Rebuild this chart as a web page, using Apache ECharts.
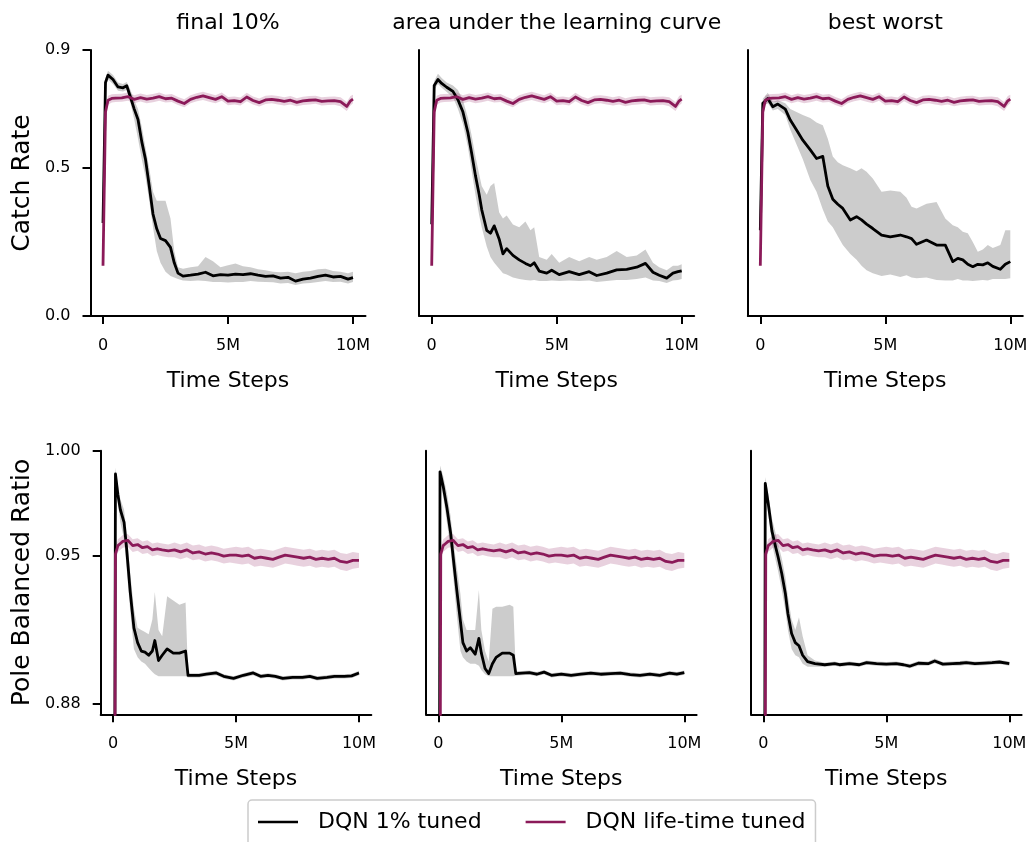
<!DOCTYPE html>
<html>
<head>
<meta charset="utf-8">
<script src="https://cdn.jsdelivr.net/npm/echarts@6/dist/echarts.min.js"></script>
<style>
html, body { margin: 0; padding: 0; background: #fff; }
#chart { width: 1031px; height: 842px; }
</style>
</head>
<body>
<div id="chart"></div>
<script>
// x in millions of time steps

// top row: DQN life-time tuned (same run in all three columns)
var MT_X  = [0, 0.1, 0.2, 0.35, 0.5, 0.75, 1.0, 1.25, 1.5, 1.75, 2.0, 2.25, 2.5, 2.75, 3.0, 3.25, 3.5, 3.75, 4.0, 4.25, 4.5, 4.75, 5.0, 5.25, 5.5, 5.75, 6.0, 6.25, 6.5, 6.75, 7.0, 7.25, 7.5, 7.75, 8.0, 8.25, 8.5, 8.75, 9.0, 9.25, 9.5, 9.75, 9.9, 10.0];
var MT_Y  = [0.17, 0.69, 0.73, 0.736, 0.737, 0.738, 0.742, 0.733, 0.739, 0.734, 0.737, 0.742, 0.735, 0.737, 0.727, 0.719, 0.733, 0.740, 0.745, 0.739, 0.733, 0.742, 0.727, 0.729, 0.725, 0.741, 0.729, 0.722, 0.731, 0.733, 0.730, 0.726, 0.730, 0.723, 0.728, 0.730, 0.731, 0.726, 0.728, 0.729, 0.725, 0.709, 0.728, 0.734];
var MT_LO = [0.16, 0.67, 0.715, 0.722, 0.724, 0.725, 0.728, 0.72, 0.726, 0.72, 0.723, 0.728, 0.722, 0.724, 0.714, 0.706, 0.72, 0.727, 0.731, 0.725, 0.72, 0.728, 0.713, 0.716, 0.712, 0.727, 0.716, 0.709, 0.717, 0.72, 0.716, 0.712, 0.716, 0.71, 0.714, 0.716, 0.718, 0.712, 0.714, 0.715, 0.71, 0.694, 0.712, 0.72];
var MT_HI = [0.18, 0.71, 0.745, 0.75, 0.751, 0.752, 0.756, 0.747, 0.753, 0.748, 0.751, 0.756, 0.749, 0.751, 0.741, 0.733, 0.747, 0.754, 0.759, 0.753, 0.747, 0.756, 0.741, 0.743, 0.739, 0.755, 0.743, 0.736, 0.745, 0.747, 0.744, 0.74, 0.744, 0.737, 0.742, 0.744, 0.745, 0.74, 0.742, 0.743, 0.74, 0.724, 0.744, 0.749];

// bottom row: DQN life-time tuned
var MB_X  = [0, 0.1, 0.2, 0.3, 0.4, 0.6, 0.8, 1.0, 1.2, 1.4, 1.6, 1.8, 2.0, 2.25, 2.5, 2.75, 3.0, 3.25, 3.5, 3.75, 4.0, 4.25, 4.5, 4.75, 5.0, 5.25, 5.5, 5.75, 6.0, 6.25, 6.5, 6.75, 7.0, 7.25, 7.5, 7.75, 8.0, 8.25, 8.5, 8.75, 9.0, 9.25, 9.5, 9.75, 10.0];
var MB_Y  = [0.5, 0.951, 0.955, 0.956, 0.957, 0.9575, 0.955, 0.9555, 0.954, 0.9545, 0.953, 0.9535, 0.953, 0.9525, 0.953, 0.952, 0.953, 0.9515, 0.952, 0.951, 0.9515, 0.951, 0.950, 0.9505, 0.9505, 0.950, 0.9505, 0.949, 0.9495, 0.949, 0.9485, 0.9495, 0.9505, 0.950, 0.9495, 0.949, 0.9495, 0.9485, 0.949, 0.9485, 0.949, 0.9475, 0.947, 0.948, 0.948];
var MB_LO = [0.5, 0.948, 0.952, 0.953, 0.954, 0.9545, 0.952, 0.9525, 0.951, 0.9515, 0.95, 0.9505, 0.95, 0.9495, 0.9495, 0.9485, 0.9495, 0.948, 0.9485, 0.9475, 0.948, 0.9475, 0.9465, 0.947, 0.9465, 0.946, 0.9465, 0.945, 0.9455, 0.945, 0.9445, 0.9455, 0.9465, 0.946, 0.9455, 0.945, 0.9455, 0.9445, 0.945, 0.9445, 0.945, 0.9435, 0.943, 0.944, 0.9445];
var MB_HI = [0.5, 0.954, 0.958, 0.959, 0.960, 0.9605, 0.958, 0.9585, 0.957, 0.9575, 0.956, 0.9565, 0.956, 0.9555, 0.9565, 0.9555, 0.9565, 0.955, 0.9555, 0.9545, 0.955, 0.9545, 0.9535, 0.954, 0.9545, 0.954, 0.9545, 0.953, 0.9535, 0.953, 0.9525, 0.9535, 0.9545, 0.954, 0.9535, 0.953, 0.9535, 0.9525, 0.953, 0.9525, 0.953, 0.9515, 0.951, 0.952, 0.9515];

// DQN 1% tuned, catch rate
var B1_X  = [0, 0.1, 0.2, 0.4, 0.6, 0.8, 0.95, 1.1, 1.25, 1.4, 1.55, 1.7, 1.85, 2.0, 2.15, 2.3, 2.5, 2.7, 2.85, 3.0, 3.2, 3.5, 3.8, 4.1, 4.4, 4.7, 5.0, 5.3, 5.6, 5.9, 6.2, 6.5, 6.8, 7.1, 7.4, 7.7, 8.0, 8.3, 8.6, 8.9, 9.2, 9.5, 9.8, 10.0];
var B1_Y  = [0.315, 0.79, 0.815, 0.80, 0.775, 0.772, 0.779, 0.74, 0.70, 0.665, 0.59, 0.53, 0.44, 0.345, 0.295, 0.262, 0.255, 0.232, 0.18, 0.145, 0.135, 0.138, 0.142, 0.148, 0.136, 0.14, 0.138, 0.142, 0.14, 0.143, 0.138, 0.134, 0.136, 0.128, 0.131, 0.118, 0.125, 0.128, 0.134, 0.138, 0.132, 0.134, 0.125, 0.13];
var B1_LO = [0.30, 0.775, 0.80, 0.785, 0.762, 0.760, 0.765, 0.72, 0.665, 0.60, 0.53, 0.47, 0.39, 0.30, 0.22, 0.18, 0.15, 0.135, 0.13, 0.125, 0.12, 0.118, 0.12, 0.118, 0.115, 0.115, 0.113, 0.115, 0.115, 0.118, 0.116, 0.115, 0.114, 0.110, 0.112, 0.105, 0.110, 0.112, 0.115, 0.118, 0.115, 0.116, 0.110, 0.115];
var B1_HI = [0.33, 0.805, 0.83, 0.815, 0.79, 0.785, 0.792, 0.765, 0.73, 0.70, 0.64, 0.57, 0.50, 0.42, 0.39, 0.39, 0.39, 0.33, 0.22, 0.165, 0.16, 0.165, 0.168, 0.20, 0.185, 0.165, 0.172, 0.178, 0.168, 0.165, 0.158, 0.155, 0.150, 0.148, 0.150, 0.145, 0.150, 0.152, 0.158, 0.16, 0.152, 0.15, 0.145, 0.15];

var B2_X  = [0, 0.1, 0.25, 0.4, 0.6, 0.85, 1.05, 1.25, 1.45, 1.6, 1.75, 1.9, 2.0, 2.2, 2.35, 2.5, 2.7, 2.85, 3.0, 3.25, 3.5, 3.75, 3.95, 4.1, 4.3, 4.6, 4.8, 5.1, 5.5, 5.9, 6.3, 6.6, 7.0, 7.4, 7.8, 8.2, 8.55, 8.85, 9.1, 9.4, 9.65, 9.85, 10.0];
var B2_Y  = [0.31, 0.78, 0.80, 0.787, 0.774, 0.76, 0.732, 0.69, 0.62, 0.55, 0.475, 0.41, 0.36, 0.29, 0.28, 0.305, 0.26, 0.21, 0.228, 0.205, 0.19, 0.178, 0.17, 0.18, 0.152, 0.145, 0.155, 0.14, 0.15, 0.14, 0.15, 0.137, 0.145, 0.156, 0.158, 0.165, 0.178, 0.148, 0.138, 0.128, 0.145, 0.15, 0.153];
var B2_LO = [0.295, 0.765, 0.785, 0.772, 0.758, 0.74, 0.70, 0.65, 0.57, 0.49, 0.41, 0.34, 0.30, 0.235, 0.20, 0.18, 0.16, 0.145, 0.14, 0.13, 0.125, 0.122, 0.12, 0.122, 0.118, 0.118, 0.12, 0.118, 0.12, 0.118, 0.12, 0.115, 0.118, 0.122, 0.122, 0.125, 0.13, 0.12, 0.118, 0.112, 0.12, 0.122, 0.125];
var B2_HI = [0.325, 0.795, 0.82, 0.805, 0.79, 0.78, 0.765, 0.73, 0.67, 0.61, 0.54, 0.48, 0.44, 0.41, 0.44, 0.45, 0.35, 0.33, 0.34, 0.31, 0.30, 0.32, 0.29, 0.30, 0.20, 0.19, 0.21, 0.18, 0.20, 0.185, 0.20, 0.19, 0.20, 0.22, 0.20, 0.205, 0.225, 0.18, 0.165, 0.155, 0.17, 0.17, 0.175];

var B3_X  = [0, 0.1, 0.3, 0.5, 0.7, 1.0, 1.2, 1.45, 1.7, 2.0, 2.25, 2.5, 2.7, 2.9, 3.1, 3.3, 3.6, 3.85, 4.05, 4.25, 4.5, 4.85, 5.2, 5.6, 5.85, 6.05, 6.25, 6.65, 7.05, 7.4, 7.7, 7.9, 8.1, 8.3, 8.5, 8.7, 8.9, 9.1, 9.3, 9.6, 9.8, 10.0];
var B3_Y  = [0.29, 0.72, 0.736, 0.708, 0.717, 0.70, 0.663, 0.629, 0.595, 0.562, 0.533, 0.54, 0.44, 0.395, 0.378, 0.364, 0.325, 0.336, 0.325, 0.311, 0.296, 0.274, 0.268, 0.274, 0.268, 0.262, 0.2425, 0.257, 0.240, 0.240, 0.184, 0.195, 0.19, 0.175, 0.167, 0.175, 0.173, 0.18, 0.168, 0.158, 0.175, 0.184];
var B3_LO = [0.28, 0.71, 0.72, 0.695, 0.70, 0.68, 0.63, 0.58, 0.53, 0.46, 0.42, 0.36, 0.32, 0.30, 0.27, 0.24, 0.21, 0.19, 0.17, 0.155, 0.145, 0.135, 0.14, 0.132, 0.138, 0.13, 0.128, 0.13, 0.122, 0.12, 0.12, 0.125, 0.12, 0.12, 0.118, 0.12, 0.122, 0.12, 0.125, 0.125, 0.125, 0.128];
var B3_HI = [0.30, 0.735, 0.755, 0.725, 0.73, 0.72, 0.70, 0.69, 0.68, 0.67, 0.655, 0.645, 0.60, 0.54, 0.52, 0.51, 0.50, 0.49, 0.50, 0.488, 0.465, 0.42, 0.425, 0.42, 0.40, 0.37, 0.364, 0.38, 0.386, 0.33, 0.307, 0.30, 0.285, 0.28, 0.25, 0.217, 0.225, 0.24, 0.23, 0.24, 0.29, 0.29];

// DQN 1% tuned, pole balanced ratio
var B4_X  = [0, 0.1, 0.2, 0.3, 0.45, 0.55, 0.7, 0.85, 1.0, 1.15, 1.3, 1.45, 1.6, 1.7, 1.85, 2.0, 2.2, 2.45, 2.7, 2.95, 3.05, 3.2, 3.5, 3.8, 4.2, 4.5, 4.9, 5.3, 5.7, 6.0, 6.3, 6.6, 6.9, 7.3, 7.7, 8.0, 8.3, 8.7, 9.0, 9.4, 9.7, 10.0];
var B4_Y  = [0.5, 0.989, 0.979, 0.972, 0.966, 0.954, 0.933, 0.916, 0.909, 0.905, 0.9045, 0.903, 0.905, 0.910, 0.9005, 0.903, 0.906, 0.904, 0.904, 0.905, 0.8935, 0.8935, 0.8935, 0.894, 0.8946, 0.893, 0.892, 0.8935, 0.8946, 0.893, 0.8935, 0.893, 0.892, 0.8925, 0.8925, 0.893, 0.892, 0.8925, 0.893, 0.893, 0.8932, 0.8946];
var B4_LO = [0.5, 0.986, 0.975, 0.966, 0.958, 0.945, 0.924, 0.906, 0.902, 0.900, 0.899, 0.897, 0.895, 0.894, 0.893, 0.893, 0.893, 0.893, 0.893, 0.893, 0.8925, 0.8925, 0.8925, 0.893, 0.8935, 0.892, 0.891, 0.8925, 0.8935, 0.892, 0.8925, 0.892, 0.891, 0.8915, 0.8915, 0.892, 0.891, 0.8915, 0.892, 0.892, 0.8922, 0.8935];
var B4_HI = [0.5, 0.992, 0.984, 0.977, 0.972, 0.962, 0.942, 0.925, 0.916, 0.915, 0.914, 0.913, 0.92, 0.933, 0.915, 0.912, 0.931, 0.929, 0.927, 0.928, 0.8945, 0.8945, 0.8945, 0.895, 0.8956, 0.894, 0.893, 0.8945, 0.8956, 0.894, 0.8945, 0.894, 0.893, 0.8935, 0.8935, 0.894, 0.893, 0.8935, 0.894, 0.894, 0.8942, 0.8956];

var B5_X  = [0, 0.07, 0.2, 0.35, 0.5, 0.6, 0.75, 0.9, 1.0, 1.15, 1.3, 1.5, 1.65, 1.75, 1.9, 2.05, 2.2, 2.35, 2.6, 2.9, 3.05, 3.15, 3.4, 3.7, 4.0, 4.3, 4.6, 5.0, 5.4, 5.8, 6.2, 6.6, 7.0, 7.4, 7.8, 8.2, 8.6, 9.0, 9.4, 9.7, 10.0];
var B5_Y  = [0.5, 0.990, 0.983, 0.973, 0.961, 0.950, 0.934, 0.919, 0.909, 0.905, 0.9066, 0.9035, 0.911, 0.904, 0.8967, 0.8943, 0.899, 0.902, 0.904, 0.904, 0.903, 0.8943, 0.8945, 0.8948, 0.894, 0.895, 0.8935, 0.894, 0.8935, 0.894, 0.8945, 0.894, 0.8943, 0.8945, 0.8938, 0.8935, 0.894, 0.8935, 0.8945, 0.894, 0.8948];
var B5_LO = [0.5, 0.986, 0.978, 0.966, 0.953, 0.941, 0.922, 0.905, 0.902, 0.900, 0.899, 0.899, 0.898, 0.896, 0.894, 0.893, 0.893, 0.893, 0.893, 0.893, 0.893, 0.8933, 0.8935, 0.8938, 0.893, 0.894, 0.8925, 0.893, 0.8925, 0.893, 0.8935, 0.893, 0.8933, 0.8935, 0.8928, 0.8925, 0.893, 0.8925, 0.8935, 0.893, 0.8938];
var B5_HI = [0.5, 0.993, 0.988, 0.98, 0.969, 0.958, 0.945, 0.932, 0.92, 0.915, 0.915, 0.915, 0.934, 0.915, 0.905, 0.90, 0.925, 0.926, 0.926, 0.927, 0.926, 0.8955, 0.8955, 0.8958, 0.895, 0.896, 0.8945, 0.895, 0.8945, 0.895, 0.8955, 0.895, 0.8953, 0.8955, 0.8948, 0.8945, 0.895, 0.8945, 0.8955, 0.895, 0.8958];

var B6_X  = [0, 0.08, 0.2, 0.35, 0.5, 0.6, 0.75, 0.9, 1.0, 1.15, 1.3, 1.45, 1.6, 1.8, 2.1, 2.5, 2.9, 3.1, 3.5, 3.9, 4.2, 4.6, 5.0, 5.4, 5.7, 5.95, 6.3, 6.7, 6.97, 7.3, 7.7, 8.0, 8.25, 8.6, 9.0, 9.3, 9.6, 10.0];
var B6_Y  = [0.5, 0.9845, 0.975, 0.962, 0.9544, 0.9497, 0.9418, 0.932, 0.9228, 0.9133, 0.909, 0.9075, 0.903, 0.900, 0.899, 0.8985, 0.899, 0.8985, 0.899, 0.8985, 0.8995, 0.899, 0.8988, 0.899, 0.8985, 0.8978, 0.8992, 0.899, 0.9003, 0.8988, 0.899, 0.8992, 0.8995, 0.899, 0.8993, 0.8995, 0.8998, 0.899];
var B6_LO = [0.5, 0.981, 0.97, 0.956, 0.948, 0.943, 0.934, 0.924, 0.915, 0.906, 0.903, 0.902, 0.899, 0.8975, 0.8975, 0.8975, 0.898, 0.8975, 0.898, 0.8975, 0.8985, 0.898, 0.8978, 0.898, 0.8975, 0.8968, 0.898, 0.898, 0.8992, 0.8978, 0.898, 0.898, 0.8985, 0.898, 0.8983, 0.8985, 0.8988, 0.898];
var B6_HI = [0.5, 0.9875, 0.98, 0.968, 0.961, 0.956, 0.949, 0.94, 0.931, 0.92, 0.915, 0.921, 0.912, 0.903, 0.9005, 0.8995, 0.900, 0.8995, 0.900, 0.8995, 0.9005, 0.900, 0.8998, 0.900, 0.8995, 0.8988, 0.9003, 0.900, 0.9015, 0.8998, 0.900, 0.9003, 0.9005, 0.900, 0.9003, 0.9005, 0.9008, 0.900];

var TITLES = ['final 10%', 'area under the learning curve', 'best worst'];
var Y_NAMES = ['Catch Rate', 'Pole Balanced Ratio'];
var X_TICKS = [0, 5e6, 1e7];
var Y_TICKS_TOP = [0, 0.5, 0.9];
var Y_TICKS_BOT = [0.88, 0.95, 1.0];

var FONT = 'DejaVu Sans';
var BLACK = '#000000';
var MAROON = '#8b1a59';
var GRAY_BAND = 'rgba(0,0,0,0.2)';
var PINK_BAND = 'rgba(139,26,89,0.2)';

// pixel boxes of the six axes
var LAYOUT = [
  { left: 90.5, top: 50, width: 275, height: 266 },
  { left: 419.2, top: 50, width: 275, height: 266 },
  { left: 747.8, top: 50, width: 275, height: 266 },
  { left: 100.7, top: 450.7, width: 270.6, height: 263.6 },
  { left: 426, top: 450.7, width: 270.6, height: 263.6 },
  { left: 751, top: 450.7, width: 270.6, height: 263.6 }
];

var PANELS = [
  { mx: MT_X, my: MT_Y, mlo: MT_LO, mhi: MT_HI, bx: B1_X, by: B1_Y, blo: B1_LO, bhi: B1_HI },
  { mx: MT_X, my: MT_Y, mlo: MT_LO, mhi: MT_HI, bx: B2_X, by: B2_Y, blo: B2_LO, bhi: B2_HI },
  { mx: MT_X, my: MT_Y, mlo: MT_LO, mhi: MT_HI, bx: B3_X, by: B3_Y, blo: B3_LO, bhi: B3_HI },
  { mx: MB_X, my: MB_Y, mlo: MB_LO, mhi: MB_HI, bx: B4_X, by: B4_Y, blo: B4_LO, bhi: B4_HI },
  { mx: MB_X, my: MB_Y, mlo: MB_LO, mhi: MB_HI, bx: B5_X, by: B5_Y, blo: B5_LO, bhi: B5_HI },
  { mx: MB_X, my: MB_Y, mlo: MB_LO, mhi: MB_HI, bx: B6_X, by: B6_Y, blo: B6_LO, bhi: B6_HI }
];

function pairs(xs, ys) {
  return xs.map(function (x, i) { return [x * 1e6, ys[i]]; });
}

// shaded band between lo and hi, drawn as one polygon through the axis scales
function bandSeries(idx, xs, lo, hi, fill) {
  return {
    type: 'custom', xAxisIndex: idx, yAxisIndex: idx, silent: true, z: 1,
    data: xs.map(function (x, i) { return [x * 1e6, lo[i], hi[i]]; }),
    encode: { x: 0, y: [1, 2] },
    renderItem: function (params, api) {
      if (params.dataIndex !== 0) return null;
      var pts = [];
      for (var i = 0; i < xs.length; i++) pts.push(api.coord([xs[i] * 1e6, hi[i]]));
      for (var j = xs.length - 1; j >= 0; j--) pts.push(api.coord([xs[j] * 1e6, lo[j]]));
      var cs = params.coordSys;
      return {
        type: 'polygon', shape: { points: pts }, style: { fill: fill },
        clipPath: { type: 'rect', shape: { x: cs.x, y: cs.y, width: cs.width, height: cs.height } }
      };
    }
  };
}

function lineSeries(idx, name, xs, ys, color, z) {
  return {
    type: 'line', name: name, xAxisIndex: idx, yAxisIndex: idx,
    data: pairs(xs, ys), symbol: 'none', clip: true, silent: true, z: z,
    lineStyle: { color: color, width: 2.8, join: 'round' }, itemStyle: { color: color }
  };
}

var grids = [], xAxes = [], yAxes = [], series = [], titles = [];

LAYOUT.forEach(function (box, i) {
  var top = i < 3;
  var first = i % 3 === 0;
  var p = PANELS[i];
  grids.push({ left: box.left, top: box.top, width: box.width, height: box.height, containLabel: false });

  xAxes.push({
    type: 'value', gridIndex: i, min: -0.5e6, max: 10.5e6,
    name: 'Time Steps', nameLocation: 'middle', nameGap: 54,
    nameTextStyle: { fontSize: 22, color: '#000', fontFamily: FONT },
    axisLine: { show: true, onZero: false, lineStyle: { color: '#000', width: 2 } },
    axisTick: { show: true, length: 8, customValues: X_TICKS, lineStyle: { color: '#000', width: 2 } },
    axisLabel: {
      customValues: X_TICKS, fontSize: 16, color: '#000', margin: 22, fontFamily: FONT,
      formatter: function (v) { return v === 0 ? '0' : (v / 1e6) + 'M'; }
    },
    splitLine: { show: false }
  });

  var yt = top ? Y_TICKS_TOP : Y_TICKS_BOT;
  yAxes.push({
    type: 'value', gridIndex: i,
    min: top ? 0 : 0.875, max: top ? 0.9 : 1.0,
    name: first ? Y_NAMES[top ? 0 : 1] : '',
    nameLocation: 'middle', nameGap: top ? 56 : 66,
    nameTextStyle: { fontSize: 25, color: '#000', fontFamily: FONT },
    axisLine: { show: true, onZero: false, lineStyle: { color: '#000', width: 2 } },
    axisTick: { show: first, length: 8, customValues: yt, lineStyle: { color: '#000', width: 2 } },
    axisLabel: {
      show: first, customValues: yt, fontSize: 16, color: '#000', margin: 20, fontFamily: FONT,
      formatter: function (v) { return top ? v.toFixed(1) : v.toFixed(2); }
    },
    splitLine: { show: false }
  });

  series.push(bandSeries(i, p.bx, p.blo, p.bhi, GRAY_BAND));
  series.push(bandSeries(i, p.mx, p.mlo, p.mhi, PINK_BAND));
  series.push(lineSeries(i, 'DQN 1% tuned', p.bx, p.by, BLACK, 3));
  series.push(lineSeries(i, 'DQN life-time tuned', p.mx, p.my, MAROON, 4));

  if (top) {
    titles.push({
      text: TITLES[i], left: box.left + box.width / 2, top: 12, padding: 0,
      textAlign: 'center', textVerticalAlign: 'top',
      textStyle: { fontSize: 22, fontWeight: 'normal', color: '#000', fontFamily: FONT }
    });
  }
});

var chart = echarts.init(document.getElementById('chart'));
chart.setOption({
  animation: false,
  backgroundColor: '#fff',
  textStyle: { fontFamily: FONT },
  title: titles,
  legend: {
    data: [
      { name: 'DQN 1% tuned', icon: 'rect' },
      { name: 'DQN life-time tuned', icon: 'rect' }
    ],
    left: 248, top: 800, orient: 'horizontal',
    padding: [11, 10, 30, 10],
    itemWidth: 40, itemHeight: 2.6, itemGap: 44,
    borderColor: '#cccccc', borderWidth: 1.5, borderRadius: 4, backgroundColor: '#fff',
    textStyle: { fontSize: 22, color: '#000', fontFamily: FONT, padding: [0, 0, 0, 15] }
  },
  grid: grids,
  xAxis: xAxes,
  yAxis: yAxes,
  series: series
});
</script>
</body>
</html>
